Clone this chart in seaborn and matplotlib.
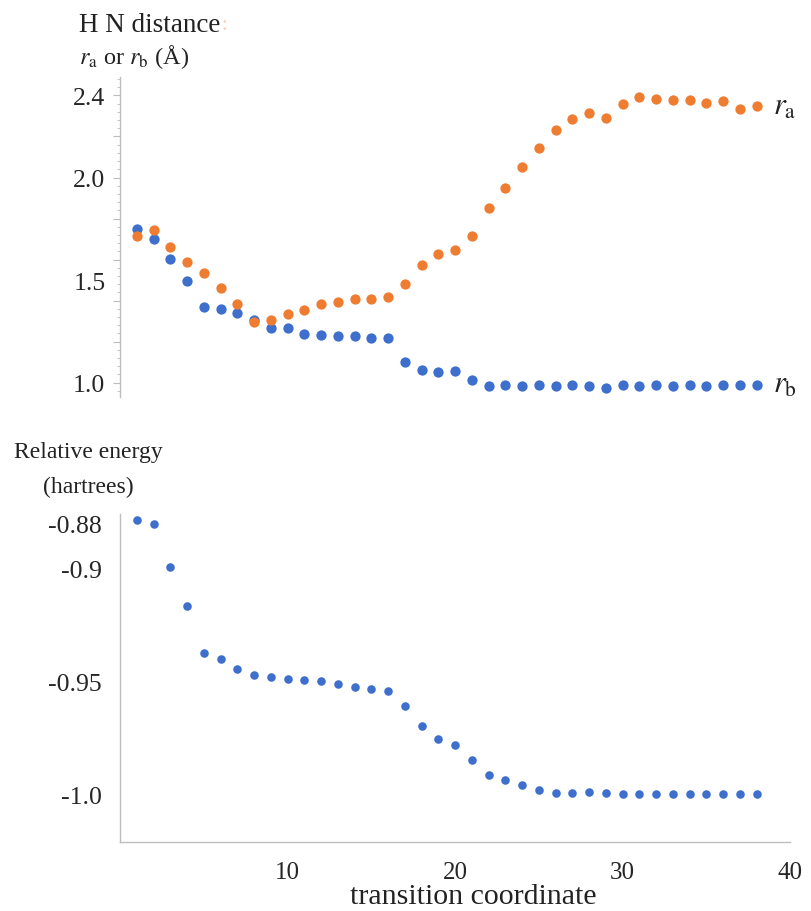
import numpy as np
import pandas as pd
import matplotlib
matplotlib.use("Agg")
import matplotlib.pyplot as plt
from matplotlib.ticker import MultipleLocator, NullFormatter
import seaborn as sns

# ---------------- data ----------------
coord = list(range(1, 39))
r_a = [1.717, 1.746, 1.659, 1.589, 1.535, 1.463, 1.385, 1.298, 1.307, 1.337,
       1.356, 1.384, 1.392, 1.410, 1.410, 1.418, 1.480, 1.574, 1.629, 1.645,
       1.714, 1.849, 1.948, 2.049, 2.145, 2.234, 2.283, 2.315, 2.291, 2.356,
       2.394, 2.384, 2.380, 2.380, 2.364, 2.372, 2.332, 2.348]
r_b = [1.750, 1.698, 1.603, 1.496, 1.369, 1.360, 1.340, 1.307, 1.268, 1.267,
       1.239, 1.231, 1.226, 1.226, 1.216, 1.216, 1.102, 1.062, 1.054, 1.055,
       1.015, 0.982, 0.989, 0.982, 0.990, 0.982, 0.990, 0.982, 0.974, 0.990,
       0.982, 0.990, 0.982, 0.990, 0.982, 0.990, 0.990, 0.990]
energy = [-0.8785, -0.8804, -0.8993, -0.9166, -0.9373, -0.9403, -0.9444, -0.9473,
          -0.9481, -0.9488, -0.9495, -0.9499, -0.9510, -0.9524, -0.9532, -0.9543,
          -0.9609, -0.9697, -0.9755, -0.9783, -0.9849, -0.9912, -0.9938, -0.9960,
          -0.9982, -0.9993, -0.9993, -0.9990, -0.9993, -1.0000, -1.0000, -1.0000,
          -0.9998, -1.0000, -1.0000, -1.0000, -1.0000, -0.9998]

top_ticks = [1.0, 1.5, 2.0, 2.4]
top_ticklabels = ["1.0", "1.5", "2.0", "2.4"]
bot_ticks = [-1.0, -0.95, -0.9, -0.88]
bot_ticklabels = ["-1.0", "-0.95", "-0.9", "-0.88"]
x_ticks = [10, 20, 30, 40]
x_ticklabels = ["10", "20", "30", "40"]

BLUE = "#3E6FCC"
ORANGE = "#EE7D32"
GRAY = "#BDBDBD"

sns.set_style("white")
plt.rcParams["font.family"] = ["Liberation Serif", "DejaVu Serif"]
plt.rcParams["mathtext.fontset"] = "stix"
plt.rcParams["axes.unicode_minus"] = False

W, H = 812, 912
fig = plt.figure(figsize=(W / 100, H / 100), dpi=100)

def frac(x0, y0, x1, y1):
    return [x0 / W, 1 - y1 / H, (x1 - x0) / W, (y1 - y0) / H]

ax1 = fig.add_axes(frac(120, 78, 790, 398))
ax2 = fig.add_axes(frac(120, 515, 790, 843))

df_top = pd.DataFrame({"coord": coord, "r_a": r_a, "r_b": r_b})
df_bot = pd.DataFrame({"coord": coord, "energy": energy})

# ---------- top panel ----------
sns.scatterplot(data=df_top, x="coord", y="r_b", ax=ax1, color=BLUE, s=55,
                linewidth=0, zorder=3)
sns.scatterplot(data=df_top, x="coord", y="r_a", ax=ax1, color=ORANGE, s=55,
                linewidth=0, zorder=4)
ax1.set_xlim(0, 40)
ax1.set_ylim(0.93, 2.49)
for s in ["top", "right", "bottom"]:
    ax1.spines[s].set_visible(False)
ax1.spines["left"].set_color(GRAY)
ax1.spines["left"].set_linewidth(1.0)
ax1.set_xticks([])
ax1.set_xlabel("")
ax1.set_ylabel("")
ax1.yaxis.set_major_locator(MultipleLocator(0.2))
ax1.yaxis.set_minor_locator(MultipleLocator(0.04))
ax1.yaxis.set_major_formatter(NullFormatter())
ax1.tick_params(axis="y", which="major", length=5, width=0.8, color=GRAY, left=True)
ax1.tick_params(axis="y", which="minor", length=2.5, width=0.6, color=GRAY, left=True)
sec = ax1.secondary_yaxis("left")
sec.set_yticks(top_ticks, labels=top_ticklabels)
sec.tick_params(length=0, pad=10.5, labelsize=18.5)
sec.spines["left"].set_visible(False)

ax1.text(coord[-1] + 1.0, r_a[-1], r"$r_{\mathrm{a}}$", fontsize=22,
         va="center", ha="left", color="#222222")
ax1.text(coord[-1] + 1.0, r_b[-1], r"$r_{\mathrm{b}}$", fontsize=22,
         va="center", ha="left", color="#222222")

# ---------- bottom panel ----------
sns.scatterplot(data=df_bot, x="coord", y="energy", ax=ax2, color=BLUE, s=38,
                linewidth=0, zorder=3)
ax2.set_xlim(0, 40)
ax2.set_ylim(-1.021, -0.876)
for s in ["top", "right"]:
    ax2.spines[s].set_visible(False)
for s in ["left", "bottom"]:
    ax2.spines[s].set_color(GRAY)
    ax2.spines[s].set_linewidth(1.0)
ax2.set_yticks(bot_ticks, labels=bot_ticklabels)
ax2.set_xticks(x_ticks, labels=x_ticklabels)
ax2.tick_params(axis="y", length=0, pad=13, labelsize=18.5)
ax2.tick_params(axis="x", length=0, pad=14, labelsize=18)
ax2.set_xlabel("")
ax2.set_ylabel("")

# ---------- texts ----------
fig.text(79 / W, 1 - 25 / H, "H N distance", fontsize=19.5, ha="left", va="center",
         color="#222222")
fig.text(221 / W, 1 - 26 / H, ":", fontsize=15, ha="left", va="center",
         color=ORANGE, alpha=0.35)
fig.text(79 / W, 1 - 57 / H, r"$r_{\mathrm{a}}$ or $r_{\mathrm{b}}$ (Å)", fontsize=17.5,
         ha="left", va="center", color="#222222")
fig.text(88 / W, 1 - 453 / H, "Relative energy", fontsize=17, ha="center",
         va="center", color="#222222")
fig.text(88 / W, 1 - 487 / H, "(hartrees)", fontsize=17, ha="center",
         va="center", color="#222222")
fig.text(473 / W, 1 - 897 / H, "transition coordinate", fontsize=21.5, ha="center",
         va="center", color="#222222")

fig.savefig("out.png", dpi=100)
